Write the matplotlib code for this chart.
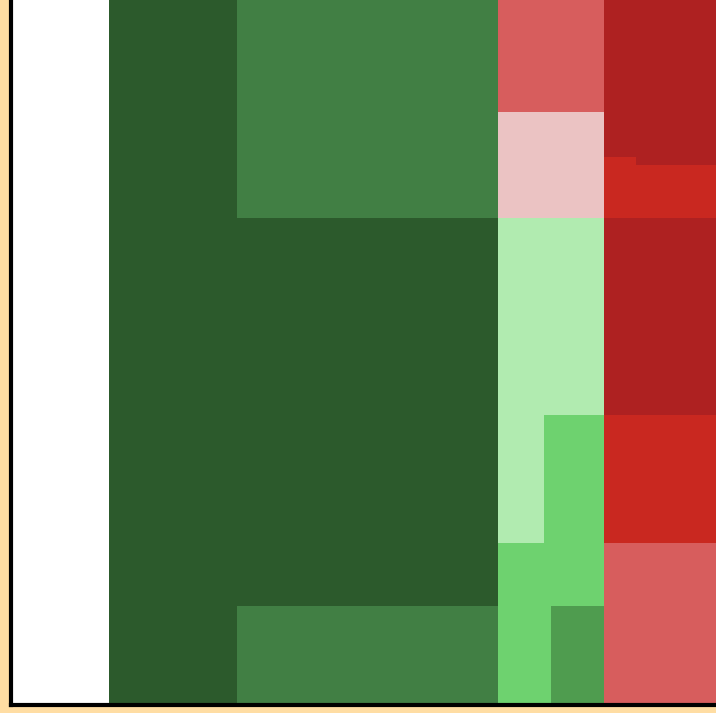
import matplotlib
matplotlib.use('Agg')
import matplotlib.pyplot as plt

# mosaic blocks: left edge, width, top, height, colour name
blk_x = [11, 109, 237, 237, 237, 498, 498, 498, 544, 544, 498, 551, 551, 604, 636, 604, 636, 604, 604, 604]
blk_w = [98, 128, 261, 261, 261, 106, 106, 46, 60, 60, 53, 53, 53, 32, 80, 32, 80, 112, 112, 112]
blk_y = [0, 0, 0, 218, 606, 0, 112, 218, 218, 415, 543, 543, 606, 0, 0, 157, 165, 218, 415, 543]
blk_h = [705, 705, 218, 388, 99, 112, 106, 325, 197, 128, 162, 63, 99, 157, 165, 61, 53, 197, 128, 162]
blk_c = ['white', 'dkgreen', 'green', 'dkgreen', 'green', 'salmon', 'pink', 'ltgreen', 'ltgreen',
         'lime', 'lime', 'lime', 'midgreen', 'dkred', 'dkred', 'red', 'red', 'dkred', 'red', 'salmon']

PAL = {
    'white': '#ffffff', 'dkgreen': '#2c5a2c', 'green': '#417f44', 'salmon': '#d75d5d',
    'pink': '#ebc3c3', 'ltgreen': '#b1ebb0', 'lime': '#6ed26f', 'midgreen': '#4f9c4f',
    'dkred': '#ae2121', 'red': '#c92820',
}

fig = plt.figure(figsize=(7.16, 7.13), dpi=100)
fig.patch.set_facecolor('#ffdda3')
ax = fig.add_axes([11 / 716, 8 / 713, 705 / 716, 705 / 713])

ax.bar(blk_x, blk_h, width=blk_w, bottom=blk_y, align='edge',
       color=[PAL[c] for c in blk_c], edgecolor='none', linewidth=0)

ax.set_xlim(11, 716)
ax.set_ylim(705, 0)
ax.set_xticks([])
ax.set_yticks([])
for s in ['top', 'right']:
    ax.spines[s].set_visible(False)
for s in ['left', 'bottom']:
    ax.spines[s].set_linewidth(3)
    ax.spines[s].set_color('black')

fig.savefig('out.png', dpi=100, facecolor=fig.get_facecolor())
